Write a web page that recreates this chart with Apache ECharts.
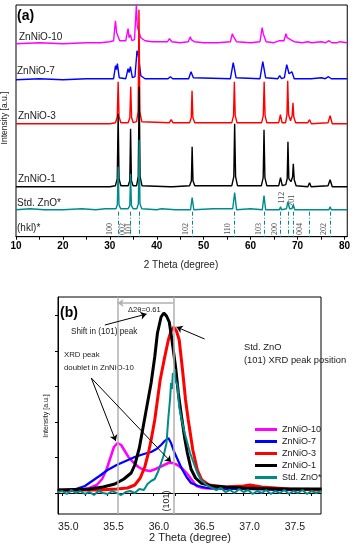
<!DOCTYPE html>
<html><head><meta charset="utf-8">
<script src="https://cdn.jsdelivr.net/npm/echarts@6/dist/echarts.min.js"></script>
<style>html,body{margin:0;padding:0;background:#fff}#c{width:353px;height:550px}</style>
</head><body><div id="c"></div>
<script>
// ---------- names ----------
const seriesNames = ['ZnNiO-10','ZnNiO-7','ZnNiO-3','ZnNiO-1','Std. ZnO*'];
const seriesColors = ['#ff00ff','#0000ff','#ff0000','#000000','#008b8b'];

// ---------- panel (a): full pattern, stacked with offsets (2θ, intensity a.u.) ----------
const aZnNiO10 = [[10,193],[15,194],[20,193],[25,194],[28,194],[30,195],[30.8,196],[31.2,216],[31.45,204],[31.77,204],[32.1,196],[32.5,195],[33.4,196],[33.88,208],[34.1,199],[34.39,202],[34.7,196],[35.25,197],[35.66,232],[35.85,210],[36.21,212],[36.6,199],[37,197],[37.5,196],[39,195],[42.3,195],[42.71,198],[43.2,195],[45,194],[46.7,195],[47.16,200],[47.35,197],[47.6,199],[48.0,195],[50,194],[53,194],[55.7,195],[56.11,203],[56.35,200],[56.6,202],[57.0,195],[60,194],[62.0,195],[62.47,209],[62.7,203],[62.9,203],[63.3,195],[65,194],[66.15,196],[66.5,195],[67.1,196],[67.55,203],[67.8,199],[68.1,200],[68.5,197],[68.82,199],[69.3,195],[71,194],[72.2,195],[73,194],[75.04,195],[76,194],[76.74,196],[77.3,194],[78.5,194],[79,195],[80.6,194]];
const aZnNiO7 = [[10,157],[15,158],[20,157],[25,158],[28,158],[30.8,158],[31.21,171],[31.4,167],[31.6,173],[32.0,159],[33.4,158],[33.88,168],[34.1,164],[34.38,170],[34.8,159],[35.35,160],[35.79,186],[36.0,183],[36.22,176],[36.6,161],[37.5,158],[42.4,158],[42.9,160],[43.4,158],[46.8,158],[47.3,165],[47.8,159],[55.7,158],[56.3,174],[56.9,159],[62.0,158],[62.6,175],[63.2,159],[65.8,158],[66.2,161],[66.6,158],[67.2,159],[67.7,172],[68.2,163],[68.8,165],[69.3,158],[72.1,158],[72.5,160],[72.9,158],[75.1,159],[75.9,158],[76.6,160],[77.2,158],[80.6,158]];
const aZnNiO3 = [[10,113],[20,113],[30,113],[31.2,114],[31.58,120],[31.77,155],[31.96,120],[32.35,114],[33.9,114],[34.26,119],[34.45,150],[34.64,119],[35.0,114],[35.7,115],[36.03,125],[36.21,227],[36.4,125],[36.8,115],[42.7,114],[43.07,117],[43.45,114],[47.0,114],[47.35,119],[47.52,146],[47.7,119],[48.1,114],[56.0,114],[56.36,121],[56.54,155],[56.72,121],[57.1,114],[62.35,114],[62.7,121],[62.89,155],[63.08,121],[63.45,114],[66.0,114],[66.36,122],[66.7,114],[67.45,114],[67.75,122],[67.91,156],[68.1,122],[68.5,116],[68.85,121],[69.03,134],[69.2,120],[69.6,114],[72.2,114],[72.57,117],[72.95,113],[76.5,114],[76.95,121],[77.4,113],[80.6,113]];
const aZnNiO1 = [[10,50],[20,50],[30,50],[31.2,51],[31.58,58],[31.77,123],[31.96,58],[32.35,51],[33.9,51],[34.25,56],[34.42,108],[34.6,56],[34.95,51],[35.7,51],[36.05,60],[36.25,150],[36.45,60],[36.85,51],[42.8,50],[43.1,52],[43.4,50],[47.0,51],[47.38,56],[47.54,90],[47.72,56],[48.1,51],[56.0,51],[56.42,60],[56.6,113],[56.8,60],[57.2,51],[62.3,51],[62.68,59],[62.86,107],[63.05,59],[63.45,51],[66.0,51],[66.38,59],[66.75,51],[67.5,52],[67.8,58],[67.96,95],[68.15,58],[68.6,55],[68.95,60],[69.1,73],[69.3,57],[69.7,51],[72.2,50],[72.56,54],[72.9,50],[76.5,51],[76.95,57],[77.4,50],[80.6,50]];
const aStdZnO = [[10,27],[13,28],[16,27],[20,27],[24,28],[27,27],[29,28],[31.3,28],[31.6,32],[31.77,70],[31.95,32],[32.3,28],[33.9,28],[34.25,31],[34.42,63],[34.6,31],[34.95,28],[35.75,28],[36.08,33],[36.25,97],[36.42,33],[36.8,28],[40,27],[41,28],[44,27],[47.2,27],[47.54,39],[47.9,27],[52,28],[56.2,28],[56.6,44],[57.0,27],[60,28],[62.5,27],[62.86,41],[63.2,27],[66.15,27],[66.38,30],[66.6,27],[67.65,28],[67.96,35],[68.3,28],[68.8,28],[69.1,32],[69.4,27],[72.35,27],[72.56,29],[72.8,27],[76.7,27],[76.95,30],[77.2,27],[80.6,27]];

// hkl reference positions and labels
const hklPos = [31.77,34.42,36.25,47.54,56.6,62.86,66.38,67.96,69.1,72.56,76.95];
const hklNames = ['100','002','101','102','110','103','200','112','201','004','202'];
const hklLabelX = [30.01,32.70,33.97,46.25,55.27,61.77,65.16,66.57,68.82,70.6,75.53];
const hklLabelY = [7.7,7.7,7.7,7.7,7.7,7.7,7.7,39,36,7.7,7.7];
const hklLineTop = 25;
const aTicks = [10,15,20,25,30,35,40,45,50,55,60,65,70,75,80];
const aLabels = [10,20,30,40,50,60,70,80];

// ---------- panel (b): zoom around (101) ----------
const bZnNiO10 = [[34.95,3],[35.0,3],[35.1,2],[35.2,3],[35.3,5],[35.38,8],[35.44,14],[35.49,24],[35.53,35],[35.57,46],[35.61,50],[35.65,48],[35.69,42],[35.73,36],[35.78,31],[35.84,26],[35.9,23],[35.97,22],[36.03,24],[36.1,27],[36.17,30],[36.22,30],[36.27,28],[36.33,24],[36.38,19],[36.43,13],[36.48,7],[36.55,5],[36.7,4],[36.8,5],[36.95,4],[37.05,6],[37.15,5],[37.3,4],[37.5,3],[37.7,4],[37.86,3]];
const bZnNiO7 = [[34.95,3],[35.0,3],[35.15,4],[35.25,7],[35.33,12],[35.41,17],[35.5,23],[35.6,28],[35.7,32],[35.8,36],[35.9,39],[35.98,41],[36.04,44],[36.09,48],[36.13,52],[36.17,55],[36.2,50],[36.24,40],[36.28,32],[36.32,24],[36.37,16],[36.42,10],[36.5,7],[36.6,5],[36.8,4],[37.0,4],[37.4,3],[37.86,3]];
const bZnNiO3 = [[34.95,3],[35.0,3],[35.4,3],[35.6,4],[35.72,5],[35.8,8],[35.86,15],[35.91,26],[35.95,40],[35.98,53],[36.02,73],[36.05,93],[36.08,113],[36.13,136],[36.17,153],[36.2,162],[36.23,166],[36.26,162],[36.29,153],[36.33,120],[36.36,93],[36.39,73],[36.44,43],[36.49,23],[36.54,13],[36.62,8],[36.8,6],[37.0,7],[37.07,8],[37.2,6],[37.5,4],[37.86,3]];
const bZnNiO1 = [[34.95,3],[35.0,3],[35.3,4],[35.45,6],[35.58,9],[35.68,14],[35.76,20],[35.8,28],[35.85,45],[35.9,70],[35.95,95],[35.98,110],[36.02,136],[36.05,160],[36.09,176],[36.12,180],[36.15,177],[36.18,171],[36.21,153],[36.25,126],[36.28,100],[36.31,80],[36.35,55],[36.38,40],[36.42,24],[36.47,15],[36.53,10],[36.65,7],[36.8,6],[37.0,5],[37.4,4],[37.86,4]];
const bStdZnO = [[34.95,1],[35.0,2],[35.05,-1],[35.1,3],[35.15,0],[35.2,2],[35.25,-1],[35.3,1],[35.35,-2],[35.4,2],[35.45,0],[35.5,-1],[35.55,2],[35.6,0],[35.65,-2],[35.7,1],[35.75,2],[35.8,0],[35.85,4],[35.9,3],[35.94,9],[35.98,12],[36.02,14],[36.06,22],[36.09,30],[36.12,38],[36.15,50],[36.17,75],[36.19,95],[36.2,110],[36.21,104],[36.22,120],[36.23,116],[36.24,124],[36.25,112],[36.27,108],[36.29,86],[36.32,72],[36.35,60],[36.38,50],[36.41,40],[36.45,30],[36.49,20],[36.53,13],[36.58,9],[36.63,6],[36.7,3],[36.75,5],[36.8,1],[36.85,3],[36.9,0],[36.95,4],[37.0,1],[37.05,3],[37.1,-1],[37.15,2],[37.2,0],[37.25,3],[37.3,-1],[37.35,2],[37.4,0],[37.45,3],[37.5,-1],[37.55,2],[37.6,0],[37.65,3],[37.7,-1],[37.75,2],[37.8,0],[37.86,2]];

const bRefLines = [35.61, 36.23];          // doublet / standard (101) positions
const bShiftArrowY = 190;
const bTicks = [35,35.25,35.5,35.75,36,36.25,36.5,36.75,37,37.25,37.5,37.75];
const bLabels = [35,35.5,36,36.5,37,37.5];
const bYTicks = [0,35.5,71,106.5,142,177.5];
// annotation arrows [from, to]
const bArrows = [
  [[35.47,168],[35.93,179]],   // shift in (101) peak
  [[36.57,154],[36.26,166]],   // Std. ZnO (101)
  [[35.32,115],[35.59,52]],    // doublet 1
  [[35.32,115],[36.20,31]]     // doublet 2
];

const FONT = 'Liberation Sans, Arial, sans-serif';
const aData = [aZnNiO10,aZnNiO7,aZnNiO3,aZnNiO1,aStdZnO];
const bData = [bZnNiO10,bZnNiO7,bZnNiO3,bZnNiO1,bStdZnO];
const bWidths = [2.5,2.2,3,3,2];

const series = [];
aData.forEach((d,i)=>series.push({
  name: seriesNames[i], type:'line', xAxisIndex:0, yAxisIndex:0, data:d,
  showSymbol:false, lineStyle:{color:seriesColors[i], width:1.4}, itemStyle:{color:seriesColors[i]},
  animation:false, silent:true
}));
series.push({
  type:'line', xAxisIndex:0, yAxisIndex:0, data:[], animation:false, silent:true,
  markLine:{silent:true, symbol:['none','none'], label:{show:false}, animation:false,
    lineStyle:{color:'#008b8b', width:1, type:[4,2,1,2]},
    data: hklPos.map(p=>[{coord:[p,hklLineTop]},{coord:[p,0]}])}
});
series.push({
  type:'scatter', xAxisIndex:0, yAxisIndex:0, symbolSize:1, itemStyle:{color:'rgba(0,0,0,0)'},
  animation:false, silent:true,
  data: hklNames.map((n,i)=>({name:n, value:[hklLabelX[i], hklLabelY[i]]})),
  label:{show:true, position:'inside', rotate:90, formatter:'{b}', fontFamily:'Liberation Serif, Times New Roman, serif', fontSize:8, color:'#111'}
});
// panel b reference lines
series.push({
  type:'line', xAxisIndex:1, yAxisIndex:1, data:[], animation:false, silent:true,
  markLine:{silent:true, symbol:['none','none'], symbolSize:6, label:{show:false}, animation:false,
    lineStyle:{color:'#b0b0b0', width:1.5, type:'solid'},
    data:[{xAxis:bRefLines[0]},{xAxis:bRefLines[1]},
      [{coord:[bRefLines[1],bShiftArrowY], symbol:'none'},{coord:[bRefLines[0],bShiftArrowY], symbol:'arrow', symbolSize:6}]]}
});
bData.forEach((d,i)=>series.push({
  name: seriesNames[i], type:'line', xAxisIndex:1, yAxisIndex:1, data:d,
  showSymbol:false, lineStyle:{color:seriesColors[i], width:bWidths[i]}, itemStyle:{color:seriesColors[i]},
  animation:false, silent:true
}));
series.push({
  type:'line', xAxisIndex:1, yAxisIndex:1, data:[], animation:false, silent:true,
  markLine:{silent:true, symbol:['none','arrow'], symbolSize:6, label:{show:false}, animation:false,
    lineStyle:{color:'#000', width:1, type:'solid'},
    data: bArrows.map(a=>[{coord:a[0]},{coord:a[1]}])}
});

const txt = (x,y,t,size,opt={}) => Object.assign({type:'text', x:x, y:y, silent:true,
  style:Object.assign({text:t, fontSize:size, fontFamily:FONT, fill:'#1a1a1a', verticalAlign:'middle', align:'left'}, opt.style||{})}, opt.el||{});

const graphic = [
  txt(17,16,'(a)',14,{style:{fontWeight:'bold', fill:'#000'}}),
  txt(19,37,'ZnNiO-10',10),
  txt(17,71.7,'ZnNiO-7',10),
  txt(18,116.7,'ZnNiO-3',10),
  txt(18,179.7,'ZnNiO-1',10),
  txt(17,203,'Std. ZnO*',10),
  txt(17,228,'(hkl)*',10),
  txt(181,265,'2 Theta (degree)',10,{style:{align:'center'}}),
  txt(5,118,'Intensity [a.u.]',8.5,{style:{align:'center'}, el:{rotation:Math.PI/2}}),
  txt(60,313,'(b)',14,{style:{fontWeight:'bold', fill:'#000'}}),
  txt(128,310,'\u03942\u03b8=0.61',7.6),
  txt(71,331.5,'Shift in (101) peak',8.2),
  txt(244,347,'Std. ZnO',9.4),
  txt(244,360,'(101) XRD peak position',9.4),
  txt(64,355,'XRD peak',7.8),
  txt(64,367.5,'doublet in ZnNiO-10',7.8),
  txt(167,501,'(101)',9,{style:{align:'center'}, el:{rotation:Math.PI/2}}),
  txt(46,416,'Intensity [a.u.]',7,{style:{align:'center'}, el:{rotation:Math.PI/2}}),
  txt(190,538,'2 Theta (degree)',11,{style:{align:'center'}})
];

const option = {
  animation:false,
  backgroundColor:'#fff',
  grid:[
    {left:16, right:4, top:5, height:231.7, show:true, borderColor:'#000', borderWidth:1, containLabel:false},
    {left:58, right:32, top:297, height:217, show:true, borderColor:'#000', borderWidth:1, containLabel:false}
  ],
  xAxis:[
    {type:'value', gridIndex:0, min:10, max:80.6,
      axisLine:{show:true, lineStyle:{color:'#000', width:1}},
      axisTick:{show:true, customValues:aTicks, length:3, lineStyle:{color:'#000'}},
      axisLabel:{show:true, customValues:aLabels, fontSize:10, fontWeight:'bold', color:'#000', margin:5, fontFamily:FONT},
      splitLine:{show:false}},
    {type:'value', gridIndex:1, min:34.953, max:37.854,
      axisLine:{show:true, lineStyle:{color:'#000', width:1}},
      axisTick:{show:true, customValues:bTicks, length:3, lineStyle:{color:'#000'}},
      axisLabel:{show:true, customValues:bLabels, fontSize:10.5, color:'#1a1a1a', margin:8, fontFamily:FONT,
        formatter:v=>v.toFixed(1), padding:[0,0,0,12]},
      splitLine:{show:false}}
  ],
  yAxis:[
    {type:'value', gridIndex:0, min:0, max:231.7, axisLine:{show:false}, axisTick:{show:false}, axisLabel:{show:false}, splitLine:{show:false}},
    {type:'value', gridIndex:1, min:-21, max:196, axisLine:{show:true, lineStyle:{color:'#000'}},
      axisTick:{show:true, customValues:bYTicks, length:3, lineStyle:{color:'#000'}}, axisLabel:{show:false}, splitLine:{show:false}}
  ],
  legend:{data:seriesNames, orient:'vertical', left:250, top:420, icon:'rect', itemWidth:22, itemHeight:3, itemGap:3,
    textStyle:{fontSize:9, lineHeight:9, color:'#1a1a1a', fontFamily:FONT}, selectedMode:false},
  graphic: graphic,
  series: series
};
const chart = echarts.init(document.getElementById('c'), null, {renderer:'canvas'});
chart.setOption(option);
</script></body></html>
